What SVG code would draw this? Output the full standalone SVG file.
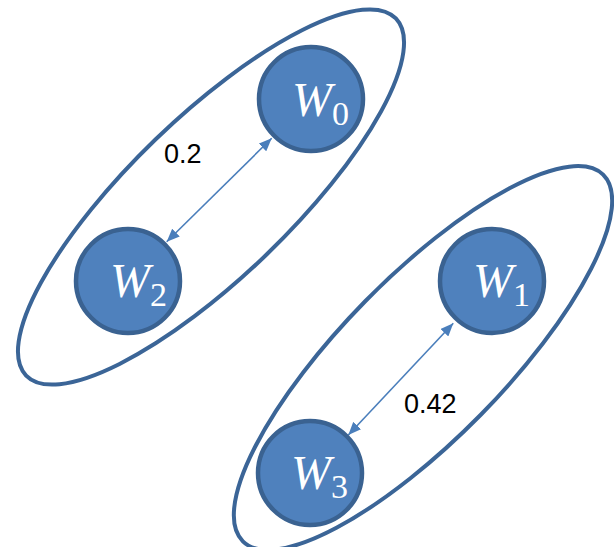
<svg xmlns="http://www.w3.org/2000/svg" width="614" height="547" viewBox="0 0 614 547">
<style>
.grp{fill:none;stroke:#3B6597;stroke-width:4}
.node{fill:#4F81BD;stroke:#3A6291;stroke-width:4.5}
.w{font-family:"Liberation Serif",serif;font-style:italic;font-size:48px;fill:#ffffff}
.sub{font-family:"Liberation Serif",serif;font-size:34px;fill:#ffffff}
.lbl{font-family:"Liberation Sans",Arial,sans-serif;font-size:27px;fill:#000000}
.edge{stroke:#4A7EBB;stroke-width:1.6;fill:none;marker-start:url(#ah);marker-end:url(#ah)}
</style>
<defs>
<marker id="ah" viewBox="0 0 12 10" refX="12" refY="5" markerWidth="13" markerHeight="11" markerUnits="userSpaceOnUse" orient="auto-start-reverse">
<path d="M0,0 L12,5 L0,10 Z" fill="#4A7EBB"/>
</marker>
</defs>
<g id="group-left"><ellipse class="grp" cx="211" cy="197" rx="257" ry="80" transform="rotate(-44 211 197)"/></g>
<g id="group-right"><ellipse class="grp" cx="423" cy="358" rx="257" ry="81" transform="rotate(-45.5 423 358)"/></g>
<g id="connectors">
<line class="edge" x1="166.7" y1="241.7" x2="271.7" y2="138.3"/>
<line class="edge" x1="348.3" y1="435" x2="453.3" y2="323.3"/>
</g>
<g id="W0"><circle class="node" cx="311" cy="99" r="52"/><text class="w" x="292" y="116">W</text><text class="sub" x="332" y="125">0</text></g>
<g id="W2"><circle class="node" cx="128" cy="281" r="52"/><text class="w" x="110" y="297">W</text><text class="sub" x="150" y="306">2</text></g>
<g id="W1"><circle class="node" cx="492" cy="281" r="52"/><text class="w" x="473" y="297">W</text><text class="sub" x="513" y="306">1</text></g>
<g id="W3"><circle class="node" cx="310" cy="473" r="52"/><text class="w" x="291" y="489">W</text><text class="sub" x="331" y="498">3</text></g>
<g id="labels">
<text class="lbl" x="164" y="163">0.2</text>
<text class="lbl" x="404" y="413">0.42</text>
</g>
</svg>
